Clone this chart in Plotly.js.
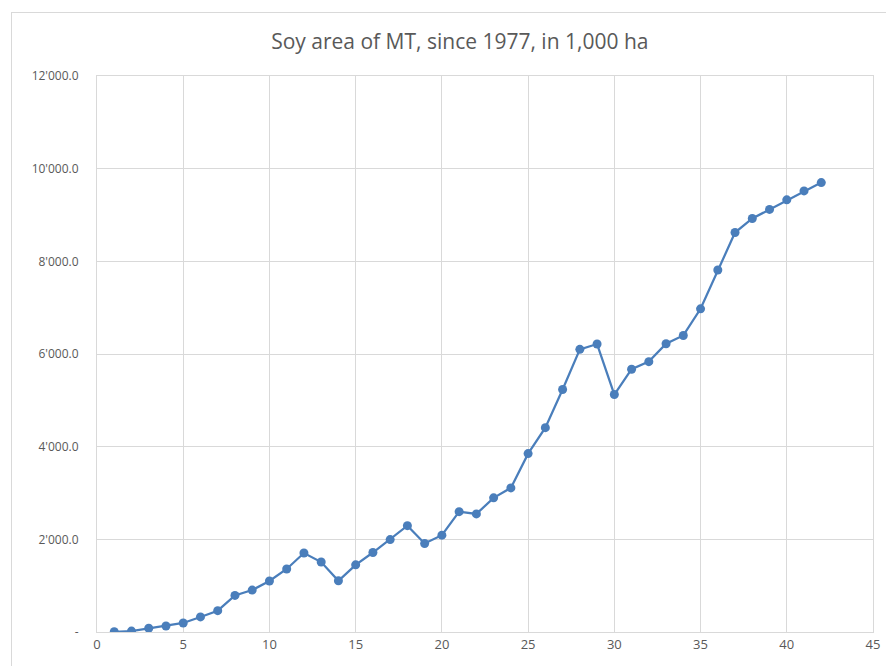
<!DOCTYPE html>
<html>
<head>
<meta charset="utf-8">
<script src="https://cdn.plot.ly/plotly-3.0.1.min.js"></script>
<style>
html,body{margin:0;padding:0;background:#fff;}
#chart{width:886px;height:666px;position:absolute;left:0;top:0;}
#frame{position:absolute;left:11px;top:12px;width:900px;height:700px;border:1px solid #d9d9d9;pointer-events:none;}
</style>
</head>
<body>
<div id="chart"></div>
<div id="frame"></div>
<script>
const years = [1,2,3,4,5,6,7,8,9,10,11,12,13,14,15,16,17,18,19,20,21,22,23,24,25,26,27,28,29,30,31,32,33,34,35,36,37,38,39,40,41,42];
const soyArea = [5,20,80,130,195,325,460,790,905,1100,1360,1705,1510,1105,1450,1715,1995,2295,1910,2090,2598,2548,2895,3110,3850,4410,5235,6100,6215,5125,5672,5835,6222,6400,6975,7812,8622,8925,9120,9327,9520,9700];
const yTickVals = [0,2000,4000,6000,8000,10000,12000];
const yTickText = ["-","2'000.0","4'000.0","6'000.0","8'000.0","10'000.0","12'000.0"];
const xTickVals = [0,5,10,15,20,25,30,35,40,45];

const trace = {
  x: years, y: soyArea, type: 'scatter', mode: 'lines+markers',
  line: {color: '#4a7ebb', width: 2.25},
  marker: {color: '#4a7ebb', size: 9},
  hoverinfo: 'x+y'
};
const layout = {
  width: 886, height: 666,
  margin: {l: 97, r: 13, t: 76, b: 34, pad: 0},
  paper_bgcolor: 'rgba(0,0,0,0)', plot_bgcolor: '#fff',
  font: {family: 'Open Sans, Liberation Sans, sans-serif', color: '#595959', size: 11},
  title: {text: 'Soy area of MT, since 1977, in 1,000 ha', x: 0.519, xanchor: 'center', y: 0.937, yanchor: 'middle',
          font: {family: 'Open Sans, sans-serif', size: 21, color: '#595959'}},
  xaxis: {range: [0, 45], tickvals: xTickVals, ticktext: xTickVals.map(String), showgrid: true, gridcolor: '#d9d9d9', gridwidth: 1,
          zeroline: false, showline: true, linecolor: '#d9d9d9', mirror: true, ticks: '', ticklen: 0, tickfont: {size: 13, color: '#595959'}, fixedrange: true},
  yaxis: {range: [0, 12000], tickvals: yTickVals, ticktext: yTickText, showgrid: true, gridcolor: '#d9d9d9', gridwidth: 1,
          zeroline: false, showline: true, linecolor: '#d9d9d9', mirror: true, ticks: 'outside', ticklen: 15, tickcolor: 'rgba(0,0,0,0)', tickfont: {size: 12, color: '#595959'}, fixedrange: true},
  showlegend: false
};
Plotly.newPlot('chart', [trace], layout, {displayModeBar: false, staticPlot: true});
</script>
</body>
</html>
